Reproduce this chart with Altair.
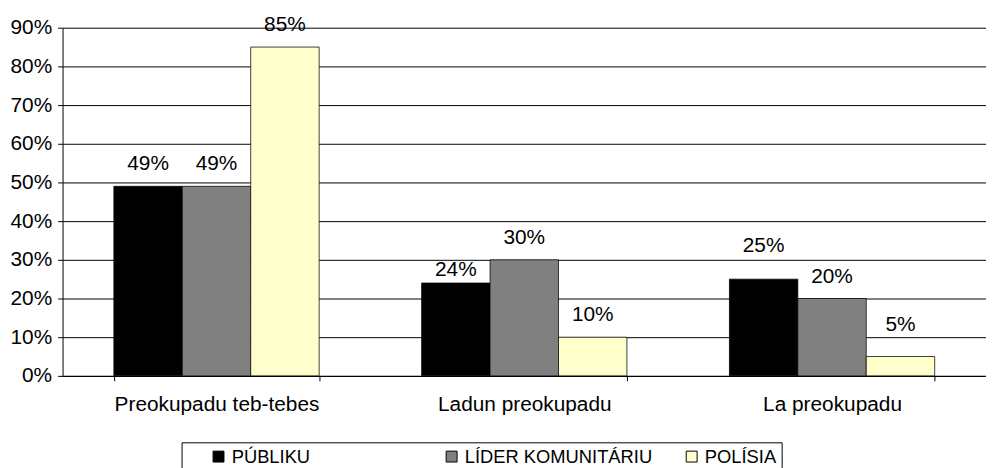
import altair as alt
import pandas as pd

categories = ["Preokupadu teb-tebes", "Ladun preokupadu", "La preokupadu"]
series = ["PÚBLIKU", "LÍDER KOMUNITÁRIU", "POLÍSIA"]
publiku = [0.49, 0.24, 0.25]
lider = [0.49, 0.30, 0.20]
polisia = [0.85, 0.10, 0.05]
colors = ["#000000", "#808080", "#FFFFCC"]
y_ticks = [0, 0.1, 0.2, 0.3, 0.4, 0.5, 0.6, 0.7, 0.8, 0.9]

# label placement tweaks (pixels, positive = down), as in the original chart
label_nudge = {
    ("Ladun preokupadu", "PÚBLIKU"): 9,
    ("La preokupadu", "PÚBLIKU"): -11,
    ("La preokupadu", "POLÍSIA"): -10,
}

rows = []
for s, vals in zip(series, [publiku, lider, polisia]):
    for c, v in zip(categories, vals):
        rows.append({"cat": c, "series": s, "value": v, "nudge": label_nudge.get((c, s), 0)})
df = pd.DataFrame(rows)

FONT = "Liberation Sans"
PAD = "\u00a0" * 20 + "\u200b"

x_enc = alt.X(
    "cat:N",
    sort=categories,
    title=None,
    scale=alt.Scale(paddingInner=0.333, paddingOuter=0.1667),
    axis=alt.Axis(
        labelAngle=0,
        labelFontSize=21,
        labelFont=FONT,
        labelColor="#000",
        labelPadding=13,
        labelLimit=500,
        labelOverlap=False,
        tickBand="extent",
        tickSize=5,
        tickColor="#000",
        domainColor="#000",
        grid=False,
    ),
)
y_enc = alt.Y(
    "value:Q",
    title=None,
    scale=alt.Scale(domain=[0, 0.9], nice=False),
    axis=alt.Axis(
        values=y_ticks,
        format=".0%",
        labelFontSize=21,
        labelFont=FONT,
        labelColor="#000",
        labelPadding=6,
        labelOverlap=False,
        tickSize=5,
        tickColor="#000",
        domainColor="#000",
        grid=True,
        gridColor="#000",
        gridWidth=1,
    ),
)
xoff = alt.XOffset("series:N", sort=series, scale=alt.Scale(domain=series, paddingInner=0, paddingOuter=0))

bars = alt.Chart(df).mark_bar(stroke="#000", strokeWidth=0.75).encode(
    x=x_enc,
    y=y_enc,
    xOffset=xoff,
    color=alt.Color(
        "series:N",
        sort=series,
        scale=alt.Scale(domain=series, range=colors),
        legend=alt.Legend(
            title=" ",
            titleOrient="left",
            titlePadding=23,
            titleFontSize=18.5,
            orient="none",
            legendX=120,
            legendY=418,
            direction="horizontal",
            padding=5,
            strokeColor="#000",
            fillColor="#fff",
            symbolType="square",
            symbolSize=121,
            symbolStrokeColor="#000",
            symbolStrokeWidth=1,
            labelFontSize=18.5,
            labelFont=FONT,
            labelColor="#000",
            labelLimit=500,
            columnPadding=30,
            labelExpr="datum.index == 0 ? datum.label + '" + PAD + "' : datum.label",
        ),
    ),
)

label_layers = []
for n in sorted(set(df["nudge"])):
    label_layers.append(
        alt.Chart(df)
        .transform_filter(alt.datum.nudge == int(n))
        .mark_text(dy=-16 + int(n), baseline="alphabetic", fontSize=21, font=FONT, color="#000")
        .encode(
            x=x_enc,
            y=y_enc,
            xOffset=xoff,
            text=alt.Text("value:Q", format=".0%"),
        )
    )

chart = (
    alt.layer(bars, *label_layers)
    .properties(
        width=931,
        height=351,
        autosize=alt.AutoSizeParams(type="none"),
        padding={"left": 55, "top": 18, "right": 0, "bottom": 91},
    )
    .configure_view(stroke=None)
)

chart.save("out.html", embed_options={"renderer": "svg", "actions": False})
